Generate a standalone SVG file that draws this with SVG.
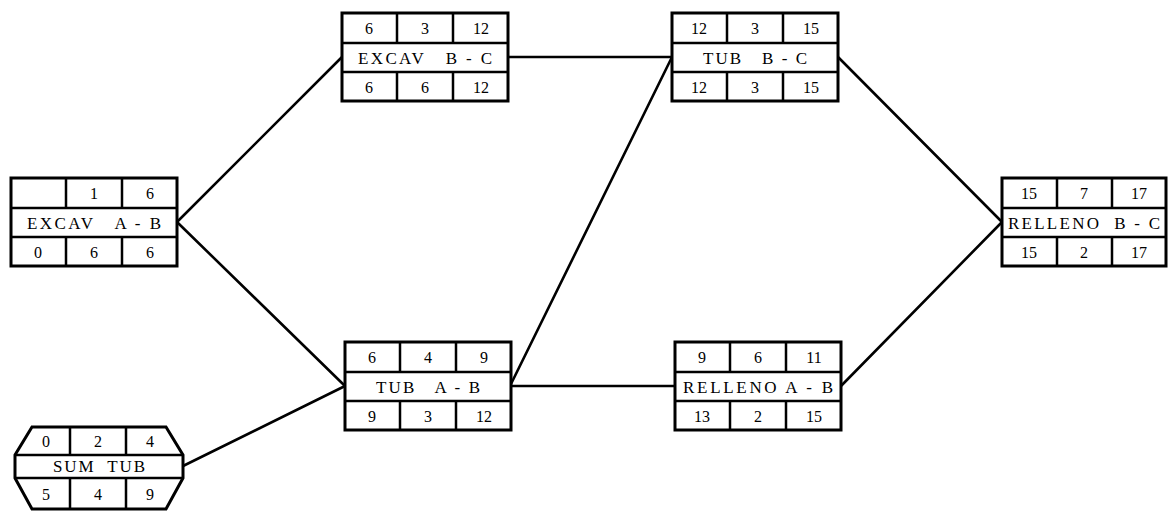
<svg xmlns="http://www.w3.org/2000/svg" width="1176" height="512" viewBox="0 0 1176 512">
<style>
.box{fill:#fff;stroke:#000;stroke-width:3}
.div{stroke:#000;stroke-width:2.5;fill:none}
.edge{stroke:#000;stroke-width:2.6;fill:none;stroke-linecap:round}
.n{font-family:"Liberation Serif",serif;font-size:16px;text-anchor:middle;fill:#000}
.lb{font-family:"Liberation Serif",serif;font-size:17px;text-anchor:middle;fill:#000;white-space:pre}
</style>
<rect width="1176" height="512" fill="#fff"/>
<g id="connectors">
<line class="edge" x1="177" y1="222" x2="342" y2="57"/>
<line class="edge" x1="177" y1="222" x2="345" y2="386"/>
<line class="edge" x1="183" y1="466" x2="345" y2="386"/>
<line class="edge" x1="508" y1="57" x2="672" y2="57"/>
<line class="edge" x1="511" y1="384" x2="672" y2="57"/>
<line class="edge" x1="511" y1="386" x2="675" y2="386"/>
<line class="edge" x1="838" y1="57" x2="1002" y2="222"/>
<line class="edge" x1="841" y1="386" x2="1002" y2="222"/>
</g>
<g id="excav-ab" transform="translate(11,178)">
<rect class="box" x="0" y="0" width="166" height="88"/>
<path class="div" d="M0 30H166M0 59H166M55 0V30M111 0V30M55 59V88M111 59V88"/>
<text class="n" x="27" y="21"></text><text class="n" x="83" y="21">1</text><text class="n" x="139" y="21">6</text>
<text class="lb" x="83" y="51" textLength="134" lengthAdjust="spacing">EXCAV   A - B</text>
<text class="n" x="27" y="80">0</text><text class="n" x="83" y="80">6</text><text class="n" x="139" y="80">6</text>
</g>
<g id="excav-bc" transform="translate(342,13)">
<rect class="box" x="0" y="0" width="166" height="88"/>
<path class="div" d="M0 30H166M0 59H166M55 0V30M111 0V30M55 59V88M111 59V88"/>
<text class="n" x="27" y="21">6</text><text class="n" x="83" y="21">3</text><text class="n" x="139" y="21">12</text>
<text class="lb" x="83" y="51" textLength="134" lengthAdjust="spacing">EXCAV   B - C</text>
<text class="n" x="27" y="80">6</text><text class="n" x="83" y="80">6</text><text class="n" x="139" y="80">12</text>
</g>
<g id="tub-bc" transform="translate(672,13)">
<rect class="box" x="0" y="0" width="166" height="88"/>
<path class="div" d="M0 30H166M0 59H166M55 0V30M111 0V30M55 59V88M111 59V88"/>
<text class="n" x="27" y="21">12</text><text class="n" x="83" y="21">3</text><text class="n" x="139" y="21">15</text>
<text class="lb" x="83" y="51" textLength="104" lengthAdjust="spacing">TUB   B - C</text>
<text class="n" x="27" y="80">12</text><text class="n" x="83" y="80">3</text><text class="n" x="139" y="80">15</text>
</g>
<g id="tub-ab" transform="translate(345,342)">
<rect class="box" x="0" y="0" width="166" height="88"/>
<path class="div" d="M0 30H166M0 59H166M55 0V30M111 0V30M55 59V88M111 59V88"/>
<text class="n" x="27" y="21">6</text><text class="n" x="83" y="21">4</text><text class="n" x="139" y="21">9</text>
<text class="lb" x="83" y="51" textLength="104" lengthAdjust="spacing">TUB   A - B</text>
<text class="n" x="27" y="80">9</text><text class="n" x="83" y="80">3</text><text class="n" x="139" y="80">12</text>
</g>
<g id="relleno-ab" transform="translate(675,342)">
<rect class="box" x="0" y="0" width="166" height="88"/>
<path class="div" d="M0 30H166M0 59H166M55 0V30M111 0V30M55 59V88M111 59V88"/>
<text class="n" x="27" y="21">9</text><text class="n" x="83" y="21">6</text><text class="n" x="139" y="21">11</text>
<text class="lb" x="83" y="51" textLength="150" lengthAdjust="spacing">RELLENO A - B</text>
<text class="n" x="27" y="80">13</text><text class="n" x="83" y="80">2</text><text class="n" x="139" y="80">15</text>
</g>
<g id="relleno-bc" transform="translate(1002,178)">
<rect class="box" x="0" y="0" width="164" height="88"/>
<path class="div" d="M0 30H164M0 59H164M55 0V30M110 0V30M55 59V88M110 59V88"/>
<text class="n" x="27" y="21">15</text><text class="n" x="82" y="21">7</text><text class="n" x="137" y="21">17</text>
<text class="lb" x="82" y="51" textLength="152" lengthAdjust="spacing">RELLENO  B - C</text>
<text class="n" x="27" y="80">15</text><text class="n" x="82" y="80">2</text><text class="n" x="137" y="80">17</text>
</g>
<g id="sum-tub">
<polygon class="box" points="32,427 166,427 183,455 183,478 166,509 32,509 15,478 15,455"/>
<path class="div" d="M15 455H183M15 478H183M70 427V455M126 427V455M70 478V509M126 478V509"/>
<text class="n" x="46" y="447">0</text><text class="n" x="98" y="447">2</text><text class="n" x="150" y="447">4</text>
<text class="lb" x="99" y="472" textLength="92" lengthAdjust="spacing">SUM  TUB</text>
<text class="n" x="46" y="500">5</text><text class="n" x="98" y="500">4</text><text class="n" x="150" y="500">9</text>
</g>
</svg>
